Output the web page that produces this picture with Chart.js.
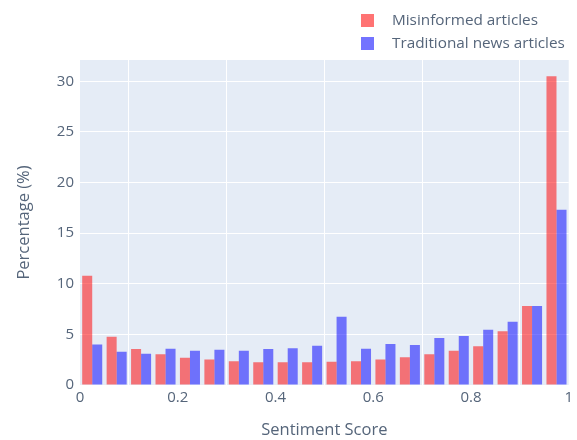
<!DOCTYPE html>
<html>
<head>
<meta charset="utf-8">
<script src="https://cdn.jsdelivr.net/npm/chart.js@4.4.0/dist/chart.umd.min.js"></script>
<style>
  html, body { margin: 0; padding: 0; background: #fff; }
  #wrap { position: relative; width: 577px; height: 440px; }
  #legend { position: absolute; left: 361px; top: 8px; font-family: "Open Sans", sans-serif; font-size: 15.3px; color: #55657a; }
  #legend div { height: 23px; line-height: 23px; white-space: nowrap; }
  #legend span.sw { display: inline-block; width: 13px; height: 13px; vertical-align: -2px; margin-right: 18px; }
</style>
</head>
<body>
<div id="wrap">
  <canvas id="myChart" width="577" height="440"></canvas>
  <div id="legend">
    <div><span class="sw" style="background: rgba(255,0,0,0.55)"></span>Misinformed articles</div>
    <div><span class="sw" style="background: rgba(0,0,255,0.55)"></span>Traditional news articles</div>
  </div>
</div>
<script>
// bin centres, sentiment score from 0 to 1 in steps of 0.05
const binCenters = [0.025, 0.075, 0.125, 0.175, 0.225, 0.275, 0.325, 0.375, 0.425, 0.475,
                    0.525, 0.575, 0.625, 0.675, 0.725, 0.775, 0.825, 0.875, 0.925, 0.975];
const misinformed = [10.8, 4.77, 3.55, 3.03, 2.7, 2.53, 2.34, 2.24, 2.24, 2.24,
                     2.3, 2.34, 2.53, 2.73, 3.03, 3.39, 3.82, 5.3, 7.8, 30.5];
const traditional = [4.0, 3.29, 3.09, 3.59, 3.39, 3.49, 3.39, 3.55, 3.62, 3.88,
                     6.74, 3.59, 4.05, 3.95, 4.64, 4.84, 5.46, 6.25, 7.8, 17.3];
const seriesNames = ['Misinformed articles', 'Traditional news articles'];
const xTicks = [0, 0.2, 0.4, 0.6, 0.8, 1];
const yTicks = [0, 5, 10, 15, 20, 25, 30];

const tickColor = '#55657a';
const font = "'Open Sans', sans-serif";

const plotBg = {
  id: 'plotBg',
  beforeDraw(chart) {
    const { ctx, chartArea } = chart;
    ctx.save();
    ctx.fillStyle = '#E5ECF6';
    ctx.fillRect(chartArea.left, chartArea.top, chartArea.right - chartArea.left, chartArea.bottom - chartArea.top);
    ctx.restore();
  }
};

const ctx = document.getElementById('myChart');
new Chart(ctx, {
  type: 'bar',
  data: {
    datasets: [{
      label: seriesNames[0],
      data: binCenters.map((x, i) => ({ x: x, y: misinformed[i] })),
      backgroundColor: 'rgba(255,0,0,0.52)',
      categoryPercentage: 0.82,
      barPercentage: 1.0,
    }, {
      label: seriesNames[1],
      data: binCenters.map((x, i) => ({ x: x, y: traditional[i] })),
      backgroundColor: 'rgba(0,0,255,0.52)',
      categoryPercentage: 0.82,
      barPercentage: 1.0,
    }],
  },
  options: {
    responsive: false,
    animation: false,
    layout: { padding: { top: 60, right: 8, left: 0, bottom: 0 } },
    plugins: {
      legend: { display: false },
      tooltip: { enabled: false },
    },
    scales: {
      x: {
        type: 'linear',
        min: 0,
        max: 1,
        offset: false,
        grid: { color: '#ffffff', lineWidth: 1, drawTicks: false },
        border: { display: false },
        afterBuildTicks(scale) { scale.ticks = xTicks.map(v => ({ value: v })); },
        ticks: {
          color: tickColor, font: { family: font, size: 15 }, padding: 4, maxRotation: 0,
          callback: v => String(Number(v.toFixed(2))),
        },
        title: { display: true, text: 'Sentiment Score', color: tickColor, font: { family: font, size: 16.5 }, padding: { top: 4, bottom: 0 } },
        afterFit(scale) { scale.height = 55; },
      },
      y: {
        min: 0,
        max: 32.1,
        grid: { color: '#ffffff', lineWidth: 1, drawTicks: false },
        border: { display: false },
        afterBuildTicks(scale) { scale.ticks = yTicks.map(v => ({ value: v })); },
        ticks: { color: tickColor, font: { family: font, size: 15 }, padding: 6 },
        title: { display: true, text: 'Percentage (%)', color: tickColor, font: { family: font, size: 16.5 }, padding: { top: 14, bottom: 0 } },
        afterFit(scale) { scale.width = 80; },
      },
    },
  },
  plugins: [plotBg],
});
</script>
</body>
</html>
